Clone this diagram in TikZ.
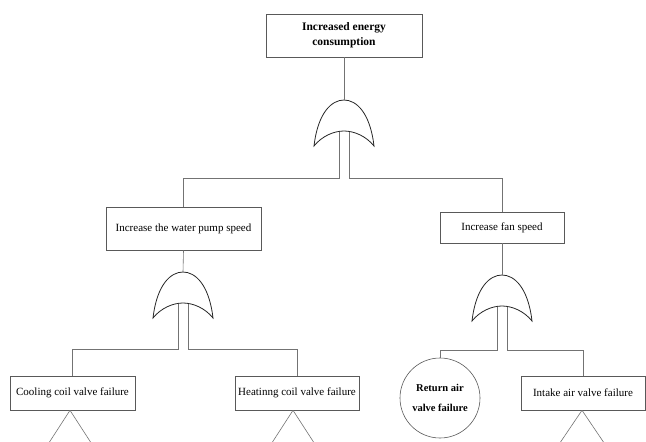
\documentclass[tikz,border=0pt]{standalone}
\usepackage{fontspec}
\setmainfont{Liberation Serif}
\begin{document}
\begin{tikzpicture}[x=1pt,y=-1pt,
  box/.style={draw=black!65,line width=0.6pt,minimum height=34pt,inner sep=2pt,font=\fontsize{11}{13}\selectfont,align=center},
  evt/.style={draw=black!65,line width=0.6pt,circle,minimum size=80pt,inner sep=0pt,font=\bfseries\fontsize{10.5}{20}\selectfont,align=center},
  conn/.style={draw=black!55,line width=0.6pt},
  gateline/.style={draw=black!85,line width=0.8pt},
  orgate/.pic={
    \draw[gateline] (-30,46) .. controls (-26,12) and (-12,0) .. (0,0)
      .. controls (12,0) and (26,12) .. (30,46)
      .. controls (22,36) and (10,31) .. (0,31)
      .. controls (-10,31) and (-22,36) .. cycle;
  }]
\useasboundingbox (0,0) rectangle (646,442);
\clip (0,0) rectangle (646,442);

% boxes
\node[box,minimum width=156pt,minimum height=43pt,font=\bfseries\fontsize{11.5}{15}\selectfont] (top) at (344,35.5) {Increased energy\\consumption};
\node[box,minimum width=155pt,minimum height=43pt] (water) at (183.5,228.5) {Increase the water pump speed};
\node[box,minimum width=124pt,minimum height=31pt] (fan) at (502,227.5) {Increase fan speed};
\node[box,minimum width=125pt] (cool) at (72.5,393) {Cooling coil valve failure};
\node[box,minimum width=124pt] (heat) at (297,393) {Heatinng coil valve failure};
\node[evt] (ret) at (440,398) {Return air\\valve failure};
\node[box,minimum width=124pt] (intake) at (583,393) {Intake air valve failure};

% gates
\coordinate (g1) at (344,100);
\coordinate (g2) at (183,272);
\coordinate (g3) at (502,275);
\pic at (g1) {orgate};
\pic at (g2) {orgate};
\pic at (g3) {orgate};

% gate legs
\coordinate (g1l) at (339,132);
\coordinate (g1r) at (349,132);
\coordinate (g2l) at (178,304);
\coordinate (g2r) at (188,304);
\coordinate (g3l) at (497,307);
\coordinate (g3r) at (507,307);

% connectors
\draw[conn] (top.south) -- (g1);
\draw[conn] (g1l) -- ++(0,46) -| (water.north);
\draw[conn] (g1r) -- ++(0,46) -| (fan.north);
\draw[conn] (water.south) -- (g2);
\draw[conn] (fan.south) -- (g3);
\draw[conn] (g2l) -- ++(0,45) -| (cool.north);
\draw[conn] (g2r) -- ++(0,45) -| (heat.north);
\draw[conn] (g3l) -- ++(0,43) -| (ret.north);
\draw[conn] (g3r) -- ++(0,43) -| (intake.north);

% transfer triangles (cut by the page edge)
\draw[conn] (cool.south) ++(-2.5,0) coordinate (ct) -- ++(-22,34);
\draw[conn] (ct) -- ++(22,34);
\draw[conn] (heat.south) ++(-4,0) coordinate (ht) -- ++(-22,34);
\draw[conn] (ht) -- ++(22,34);
\draw[conn] (intake.south) ++(-1,0) coordinate (it) -- ++(-23,34);
\draw[conn] (it) -- ++(23,34);
\end{tikzpicture}
\end{document}
